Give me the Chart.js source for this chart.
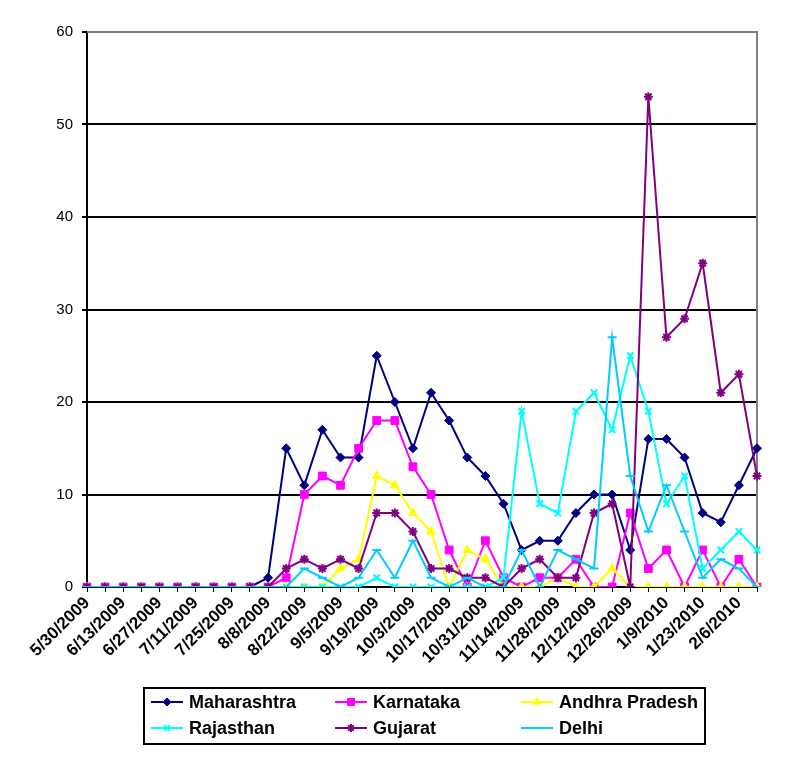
<!DOCTYPE html>
<html>
<head>
<meta charset="utf-8">
<script src="https://cdn.jsdelivr.net/npm/chart.js@4"></script>
<style>
  html, body { margin: 0; padding: 0; background: #fff; }
  #wrap { width: 791px; height: 777px; position: relative; }
</style>
</head>
<body>
<div id="wrap"><canvas id="chart"></canvas></div>
<script>
// ── DATA ─────────────────────────────────────────────────────────
const weeks = [
  "5/30/2009", "6/6/2009", "6/13/2009", "6/20/2009", "6/27/2009", "7/4/2009",
  "7/11/2009", "7/18/2009", "7/25/2009", "8/1/2009", "8/8/2009", "8/15/2009",
  "8/22/2009", "8/29/2009", "9/5/2009", "9/12/2009", "9/19/2009", "9/26/2009",
  "10/3/2009", "10/10/2009", "10/17/2009", "10/24/2009", "10/31/2009", "11/7/2009",
  "11/14/2009", "11/21/2009", "11/28/2009", "12/5/2009", "12/12/2009", "12/19/2009",
  "12/26/2009", "1/2/2010", "1/9/2010", "1/16/2010", "1/23/2010", "1/30/2010",
  "2/6/2010", "2/13/2010"
];

const maharashtra   = [0,0,0,0,0,0,0,0,0,0, 1,15,11,17,14,14,25,20,15,21,18,14,12,9,4,5,5,8,10,10,4,16,16,14,8,7,11,15];
const karnataka     = [0,0,0,0,0,0,0,0,0,0, 0,1,10,12,11,15,18,18,13,10,4,0,5,1,0,1,1,3,0,0,8,2,4,0,4,0,3,0];
const andhraPradesh = [0,0,0,0,0,0,0,0,0,0, 0,0,0,0,2,3,12,11,8,6,0,4,3,0,0,0,1,0,0,2,0,0,0,0,0,0,0,0];
const rajasthan     = [0,0,0,0,0,0,0,0,0,0, 0,0,0,0,0,0,1,0,0,0,0,0,0,1,19,9,8,19,21,17,25,19,9,12,2,4,6,4];
const gujarat       = [0,0,0,0,0,0,0,0,0,0, 0,2,3,2,3,2,8,8,6,2,2,1,1,0,2,3,1,1,8,9,0,53,27,29,35,21,23,12];
const delhi         = [0,0,0,0,0,0,0,0,0,0, 0,0,2,1,0,1,4,1,5,1,0,1,0,0,4,0,4,3,2,27,12,6,11,6,1,3,2,0];

const yTicks = [0, 10, 20, 30, 40, 50, 60];

// ── STYLE ────────────────────────────────────────────────────────
const FONT = "'Liberation Sans', Arial, sans-serif";
Chart.defaults.font.family = FONT;
Chart.defaults.color = "#000";

function series(label, data, color, style, radius, bw, order) {
  return {
    label, data, order,
    borderColor: color,
    backgroundColor: color,
    borderWidth: 2,
    tension: 0,
    pointStyle: style,
    pointRadius: radius,
    pointHoverRadius: radius,
    pointBackgroundColor: color,
    pointBorderColor: color,
    pointBorderWidth: bw,
  };
}

const datasets = [
  series("Maharashtra",    maharashtra,   "#000080", "rectRot",  4.5, 1, 6),
  series("Karnataka",      karnataka,     "#FF00FF", "rect",     5.5, 1, 5),
  series("Andhra Pradesh", andhraPradesh, "#FFFF00", "triangle", 5,   1, 4),
  series("Rajasthan",      rajasthan,     "#00FFFF", "crossRot", 4.5, 2, 3),
  series("Gujarat",        gujarat,       "#800080", "star",     4.5, 2, 2),
  series("Delhi",          delhi,         "#00CCFF", "line",     4.5, 2, 1),
];

// ── PLOT FRAME (gray top/right border) ───────────────────────────
const frame = {
  id: "frame",
  beforeDatasetsDraw(chart) {
    const { ctx, chartArea: a } = chart;
    ctx.save();
    ctx.strokeStyle = "#808080";
    ctx.lineWidth = 2;
    ctx.beginPath();
    ctx.moveTo(a.left, a.top);
    ctx.lineTo(a.right, a.top);
    ctx.lineTo(a.right, a.bottom);
    ctx.stroke();
    ctx.restore();
  }
};

// ── LEGEND (boxed, 3 columns) ────────────────────────────────────
const boxLegend = {
  id: "boxLegend",
  afterDraw(chart) {
    const ctx = chart.ctx;
    const cols = [151, 335, 521];
    const rows = [702, 728];
    ctx.save();
    ctx.strokeStyle = "#000";
    ctx.lineWidth = 2;
    ctx.strokeRect(144, 688, 561, 56);
    ctx.font = "bold 18px " + FONT;
    ctx.textBaseline = "middle";
    chart.data.datasets.forEach((ds, i) => {
      const x = cols[i % 3], y = rows[Math.floor(i / 3)];
      ctx.strokeStyle = ds.borderColor;
      ctx.lineWidth = 2;
      ctx.beginPath();
      ctx.moveTo(x, y);
      ctx.lineTo(x + 32, y);
      ctx.stroke();
      ctx.fillStyle = ds.pointBackgroundColor;
      ctx.strokeStyle = ds.pointBorderColor;
      ctx.lineWidth = ds.pointBorderWidth;
      Chart.helpers.drawPoint(ctx, {
        pointStyle: ds.pointStyle,
        radius: ds.pointRadius * 0.9,
        borderWidth: ds.pointBorderWidth,
        rotation: 0,
      }, x + 16, y);
      ctx.fillStyle = "#000";
      ctx.fillText(ds.label, x + 38, y + 1);
    });
    ctx.restore();
  }
};

// ── CHART ────────────────────────────────────────────────────────
new Chart(document.getElementById("chart"), {
  type: "line",
  data: { labels: weeks, datasets },
  plugins: [frame, boxLegend],
  options: {
    responsive: true,
    maintainAspectRatio: false,
    animation: false,
    layout: { padding: { top: 32, right: 34, bottom: 90, left: 0 } },
    plugins: {
      legend: { display: false },
      tooltip: { enabled: false },
    },
    scales: {
      x: {
        type: "category",
        offset: false,
        border: { display: true, color: "#000", width: 2 },
        grid: {
          display: true,
          drawOnChartArea: false,
          drawTicks: true,
          tickLength: 5,
          color: "#000",
          lineWidth: 1,
        },
        ticks: {
          autoSkip: false,
          maxRotation: 45,
          minRotation: 45,
          padding: 1,
          color: "#000",
          font: { size: 17, weight: "bold" },
          callback: (v, i) => (i % 2 === 0 ? weeks[i] : ""),
        },
        afterFit: s => { s.height = 100; },
      },
      y: {
        min: 0,
        max: 60,
        afterBuildTicks: s => { s.ticks = yTicks.map(v => ({ value: v })); },
        border: { display: true, color: "#000", width: 2 },
        grid: {
          color: c => (c.tick && c.tick.value === 60 ? "rgba(0,0,0,0)" : "#000"),
          tickColor: "#000",
          lineWidth: 2,
          tickLength: 5,
        },
        ticks: {
          padding: 9,
          color: "#000",
          font: { size: 15 },
        },
        afterFit: s => { s.width = 87; },
      },
    },
  },
});
</script>
</body>
</html>
